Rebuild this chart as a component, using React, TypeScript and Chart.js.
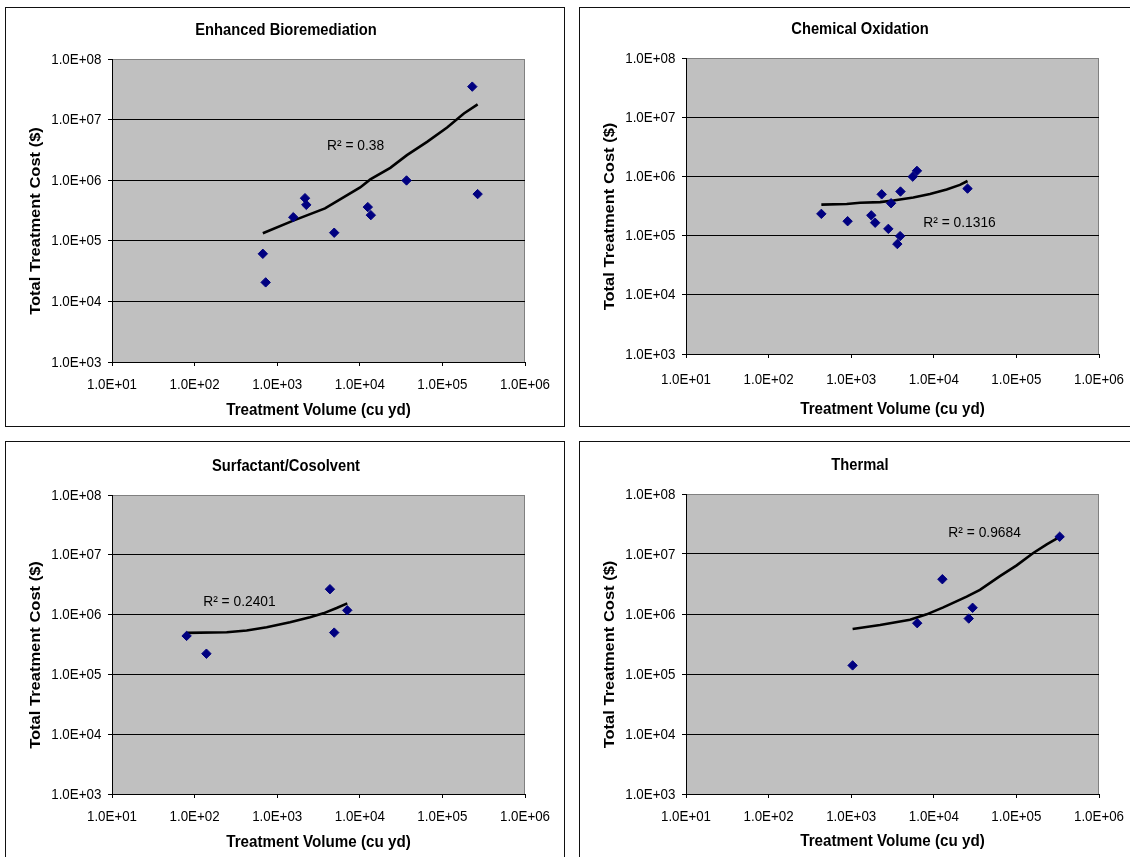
import React, { useEffect, useRef } from "react";
import { Chart, registerables } from "chart.js";

Chart.register(...registerables);

// ---------- axis ticks ----------
const X_TICKS = [1e1, 1e2, 1e3, 1e4, 1e5, 1e6];
const X_TICK_LABELS = ["1.0E+01", "1.0E+02", "1.0E+03", "1.0E+04", "1.0E+05", "1.0E+06"];
const Y_TICKS = [1e3, 1e4, 1e5, 1e6, 1e7, 1e8];
const Y_TICK_LABELS = ["1.0E+03", "1.0E+04", "1.0E+05", "1.0E+06", "1.0E+07", "1.0E+08"];
const X_TITLE = "Treatment Volume (cu yd)";
const Y_TITLE = "Total Treatment Cost ($)";

// ---------- Enhanced Bioremediation ----------
const BIO_VOLUME = [670, 725, 1565, 2170, 2250, 4900, 12500, 13600, 36800, 230000, 267000];
const BIO_COST = [61000, 20600, 245000, 505000, 392000, 136000, 360000, 265000, 990000, 35000000, 590000];
const BIO_TREND_VOLUME = [670, 1563, 3790, 5770, 10100, 13400, 23400, 37200, 65200, 114000, 182000, 267000];
const BIO_TREND_COST = [133000, 215000, 343000, 482000, 760000, 1030000, 1600000, 2590000, 4290000, 7380000, 12600000, 17800000];
const BIO_R2 = "R² = 0.38";

// ---------- Chemical Oxidation ----------
const CHEM_VOLUME = [435, 905, 1750, 1950, 2340, 2815, 3040, 3620, 3910, 3950, 5560, 6250, 25600];
const CHEM_COST = [233000, 175000, 220000, 165000, 498000, 130000, 352000, 72000, 98000, 555000, 990000, 1240000, 622000];
const CHEM_TREND_VOLUME = [435, 883, 1280, 2234, 3236, 5649, 8990, 14300, 20700, 25600];
const CHEM_TREND_COST = [333000, 341000, 359000, 368000, 392000, 440000, 505000, 603000, 719000, 837000];
const CHEM_R2 = "R² = 0.1316";

// ---------- Surfactant/Cosolvent ----------
const SURF_VOLUME = [80, 139, 4350, 4900, 7050];
const SURF_COST = [440000, 222000, 2660000, 500000, 1180000];
const SURF_TREND_VOLUME = [80, 245, 427, 746, 1429, 2495, 3617, 5248, 7050];
const SURF_TREND_COST = [494000, 508000, 541000, 615000, 745000, 903000, 1050000, 1290000, 1540000];
const SURF_R2 = "R² = 0.2401";

// ---------- Thermal ----------
const THERM_VOLUME = [1040, 6300, 12700, 26500, 29500, 334000];
const THERM_COST = [139000, 703000, 3800000, 840000, 1270000, 19400000];
const THERM_TREND_VOLUME = [1040, 2234, 5152, 8200, 13030, 25000, 36200, 63200, 100700, 160000, 233000, 334000];
const THERM_TREND_COST = [561000, 655000, 803000, 987000, 1290000, 1950000, 2530000, 4280000, 6460000, 10400000, 14500000, 19300000];
const THERM_R2 = "R² = 0.9684";

// ---------- layout / style ----------
const PANEL_W = 560;
const PANEL_H = 420;
const AREA_LEFT = 107;
const AREA_RIGHT = 520;
const TICK_LEN = 4;
const SX = 0.92; // horizontal text compression
const FONT = "'Liberation Sans', Arial, Helvetica, sans-serif";

type PanelCfg = {
  title: string;
  volume: number[];
  cost: number[];
  trendVolume: number[];
  trendCost: number[];
  r2: string;
  r2At: [number, number];
  left: number;
  top: number;
  areaTop: number;
  areaBottom: number;
  xLabelGap: number;
  xTitleY: number;
};

const PANELS: PanelCfg[] = [
  {
    title: "Enhanced Bioremediation",
    volume: BIO_VOLUME, cost: BIO_COST, trendVolume: BIO_TREND_VOLUME, trendCost: BIO_TREND_COST,
    r2: BIO_R2, r2At: [4010, 3.7e6],
    left: 5, top: 7, areaTop: 52, areaBottom: 355, xLabelGap: 23, xTitleY: 403,
  },
  {
    title: "Chemical Oxidation",
    volume: CHEM_VOLUME, cost: CHEM_COST, trendVolume: CHEM_TREND_VOLUME, trendCost: CHEM_TREND_COST,
    r2: CHEM_R2, r2At: [7460, 1.65e5],
    left: 579, top: 7, areaTop: 51, areaBottom: 347, xLabelGap: 26, xTitleY: 402,
  },
  {
    title: "Surfactant/Cosolvent",
    volume: SURF_VOLUME, cost: SURF_COST, trendVolume: SURF_TREND_VOLUME, trendCost: SURF_TREND_COST,
    r2: SURF_R2, r2At: [127, 1.63e6],
    left: 5, top: 441, areaTop: 54, areaBottom: 353, xLabelGap: 22.5, xTitleY: 401,
  },
  {
    title: "Thermal",
    volume: THERM_VOLUME, cost: THERM_COST, trendVolume: THERM_TREND_VOLUME, trendCost: THERM_TREND_COST,
    r2: THERM_R2, r2At: [15000, 2.26e7],
    left: 579, top: 441, areaTop: 53, areaBottom: 353, xLabelGap: 22.5, xTitleY: 400,
  },
];

function drawText(
  ctx: CanvasRenderingContext2D,
  text: string,
  x: number,
  y: number,
  font: string,
  align: CanvasTextAlign,
  rotate = false
) {
  ctx.save();
  ctx.translate(x, y);
  ctx.scale(SX, 1);
  if (rotate) ctx.rotate(-Math.PI / 2);
  ctx.font = font;
  ctx.fillStyle = "#000";
  ctx.textAlign = align;
  ctx.textBaseline = "middle";
  ctx.fillText(text, 0, 0);
  ctx.restore();
}

function Panel({ cfg }: { cfg: PanelCfg }) {
  const ref = useRef<HTMLCanvasElement>(null);

  useEffect(() => {
    const canvas = ref.current;
    if (!canvas) return;

    const backgroundPlugin = {
      id: "plotBackground",
      beforeDraw(chart: any) {
        const { ctx, chartArea: a } = chart;
        ctx.save();
        ctx.fillStyle = "#C0C0C0";
        ctx.fillRect(a.left, a.top, a.right - a.left, a.bottom - a.top);
        ctx.strokeStyle = "#808080";
        ctx.lineWidth = 1;
        ctx.beginPath();
        ctx.moveTo(Math.round(a.right) - 0.5, a.top);
        ctx.lineTo(Math.round(a.right) - 0.5, a.bottom);
        ctx.stroke();
        ctx.restore();
      },
    };

    const textPlugin = {
      id: "texts",
      afterDraw(chart: any) {
        const { ctx, chartArea: a } = chart;
        const xs = chart.scales.x;
        const ys = chart.scales.y;
        drawText(ctx, cfg.title, 281, cfg.areaTop - 28.5, `bold 16px ${FONT}`, "center");
        Y_TICKS.forEach((v, i) => {
          drawText(ctx, Y_TICK_LABELS[i], a.left - 10.7, ys.getPixelForValue(v) + 0.5, `14.5px ${FONT}`, "right");
        });
        X_TICKS.forEach((v, i) => {
          drawText(ctx, X_TICK_LABELS[i], xs.getPixelForValue(v), a.bottom + cfg.xLabelGap, `14.5px ${FONT}`, "center");
        });
        drawText(ctx, X_TITLE, (a.left + a.right) / 2, cfg.xTitleY, `bold 16.5px ${FONT}`, "center");
        drawText(ctx, Y_TITLE, 30.5, (a.top + a.bottom) / 2 + 10.5, `bold 16.5px ${FONT}`, "center", true);
        drawText(
          ctx,
          cfg.r2,
          xs.getPixelForValue(cfg.r2At[0]),
          ys.getPixelForValue(cfg.r2At[1]),
          `15px ${FONT}`,
          "left"
        );
      },
    };

    const chart = new Chart(canvas, {
      type: "scatter",
      data: {
        datasets: [
          {
            label: "data",
            data: cfg.volume.map((v, i) => ({ x: v, y: cfg.cost[i] })),
            backgroundColor: "#000080",
            borderColor: "#000080",
            pointStyle: "rectRot",
            pointRadius: 4.7,
            pointBorderWidth: 1,
            showLine: false,
            order: 1,
          } as any,
          {
            label: "trend",
            data: cfg.trendVolume.map((v, i) => ({ x: v, y: cfg.trendCost[i] })),
            borderColor: "#000000",
            backgroundColor: "#000000",
            borderWidth: 2.6,
            pointRadius: 0,
            showLine: true,
            tension: 0,
            order: 2,
          } as any,
        ],
      },
      options: {
        responsive: false,
        animation: false,
        devicePixelRatio: 1,
        events: [],
        layout: {
          padding: {
            left: AREA_LEFT - TICK_LEN,
            right: PANEL_W - AREA_RIGHT,
            top: cfg.areaTop,
            bottom: PANEL_H - cfg.areaBottom - TICK_LEN,
          },
        },
        plugins: {
          legend: { display: false },
          tooltip: { enabled: false },
          title: { display: false },
        },
        scales: {
          x: {
            type: "logarithmic",
            position: "bottom",
            min: 1e1,
            max: 1e6,
            afterBuildTicks: (s: any) => {
              s.ticks = X_TICKS.map((v) => ({ value: v }));
            },
            afterFit: (s: any) => {
              s.height = TICK_LEN;
              s.paddingLeft = 0;
              s.paddingRight = 0;
            },
            ticks: { display: false },
            grid: {
              display: true,
              drawOnChartArea: false,
              drawTicks: true,
              tickLength: TICK_LEN,
              tickColor: "#000",
              tickWidth: 1,
            },
            border: { display: true, color: "#000", width: 1 },
          },
          y: {
            type: "logarithmic",
            position: "left",
            min: 1e3,
            max: 1e8,
            afterBuildTicks: (s: any) => {
              s.ticks = Y_TICKS.map((v) => ({ value: v }));
            },
            afterFit: (s: any) => {
              s.width = TICK_LEN;
              s.paddingTop = 0;
              s.paddingBottom = 0;
            },
            ticks: { display: false },
            grid: {
              display: true,
              drawOnChartArea: true,
              drawTicks: true,
              tickLength: TICK_LEN,
              tickColor: "#000",
              lineWidth: 1,
              color: (c: any) => (c.tick && c.tick.value >= 1e8 ? "#808080" : "#000000"),
            },
            border: { display: true, color: "#000", width: 1 },
          },
        },
      } as any,
      plugins: [backgroundPlugin, textPlugin],
    });

    return () => chart.destroy();
  }, [cfg]);

  return (
    <>
      <div
        style={{
          position: "absolute",
          left: cfg.left,
          top: cfg.top,
          width: PANEL_W,
          height: PANEL_H,
          boxSizing: "border-box",
          border: "1px solid #111",
          background: "#fff",
        }}
      />
      <canvas
        ref={ref}
        width={PANEL_W}
        height={PANEL_H}
        style={{ position: "absolute", left: cfg.left, top: cfg.top, width: PANEL_W, height: PANEL_H }}
      />
    </>
  );
}

export default function App() {
  return (
    <div
      style={{
        position: "fixed",
        left: 0,
        top: 0,
        width: 1130,
        height: 857,
        overflow: "hidden",
        background: "#fff",
      }}
    >
      {PANELS.map((p, i) => (
        <Panel key={i} cfg={p} />
      ))}
    </div>
  );
}
